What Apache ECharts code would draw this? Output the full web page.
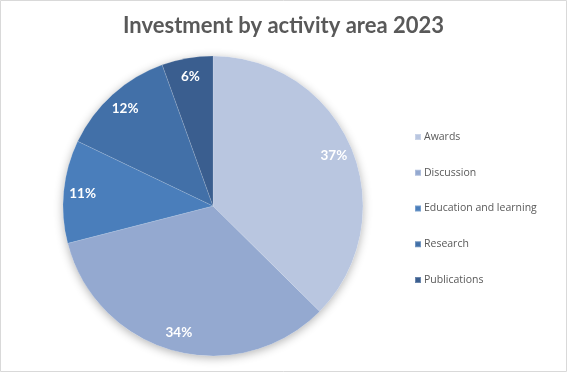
<!DOCTYPE html>
<html><head><meta charset="utf-8">
<script src="https://cdn.jsdelivr.net/npm/echarts@6/dist/echarts.min.js"></script>
<style>html,body{margin:0;padding:0;background:#fff}#c{width:567px;height:372px}</style>
</head><body><div id="c"></div>
<script>
const categories = ['Awards', 'Discussion', 'Education and learning', 'Research', 'Publications'];
const values = [37.4, 33.6, 11.1, 12.4, 5.5];
const colors = ['#B9C6E0', '#94A9D0', '#4A7EBB', '#4270A8', '#3A5E8F'];
const titleText = 'Investment by activity area 2023';

const chart = echarts.init(document.getElementById('c'), null, {renderer: 'canvas'});
const data = categories.map((n, i) => ({name: n, value: values[i], itemStyle: {color: colors[i]}}));
const center = [213, 206];
chart.setOption({
  animation: false,
  backgroundColor: '#fff',
  title: {text: titleText, left: 'center', top: 10,
    textStyle: {fontFamily: 'Lato', fontWeight: 'bold', fontSize: 22, color: '#595959'}},
  legend: {orient: 'vertical', left: 409, top: 125, itemWidth: 6, itemHeight: 6, itemGap: 21.75,
    icon: 'rect', data: categories, selectedMode: false,
    textStyle: {fontFamily: 'Open Sans', fontSize: 10.5, color: '#595959', lineHeight: 14, padding: [0,0,0,-2]}},
  graphic: [{type: 'rect', shape: {x: 0.5, y: 0.5, width: 566, height: 371},
    style: {fill: 'none', stroke: '#D9D9D9', lineWidth: 1}, silent: true}],
  series: [
    {type: 'pie', radius: [0, 150], center, silent: true, startAngle: 90, clockwise: true,
     data: [{value: 1, name: '__bg', itemStyle: {color: '#fff', shadowBlur: 10, shadowColor: 'rgba(0,0,0,0.3)', shadowOffsetY: 2}}],
     label: {show: false}, labelLine: {show: false}, z: 1},
    {type: 'pie', radius: [0, 150], center, startAngle: 90, clockwise: true, silent: true,
     data, itemStyle: {borderColor: 'rgba(255,255,255,0.25)', borderWidth: 0.5},
     label: {show: false}, labelLine: {show: false}, z: 2},
    {type: 'pie', radius: [0, 256], center, startAngle: 90, clockwise: true, silent: true,
     data: categories.map((n, i) => ({name: n, value: values[i], itemStyle: {color: 'rgba(0,0,0,0)'}})),
     label: {show: true, position: 'inside', formatter: p => Math.round(p.percent) + '%',
       fontFamily: 'Lato', fontWeight: 'bold', fontSize: 13.5, color: '#fff'},
     labelLine: {show: false}, z: 3}
  ]
});
</script></body></html>
